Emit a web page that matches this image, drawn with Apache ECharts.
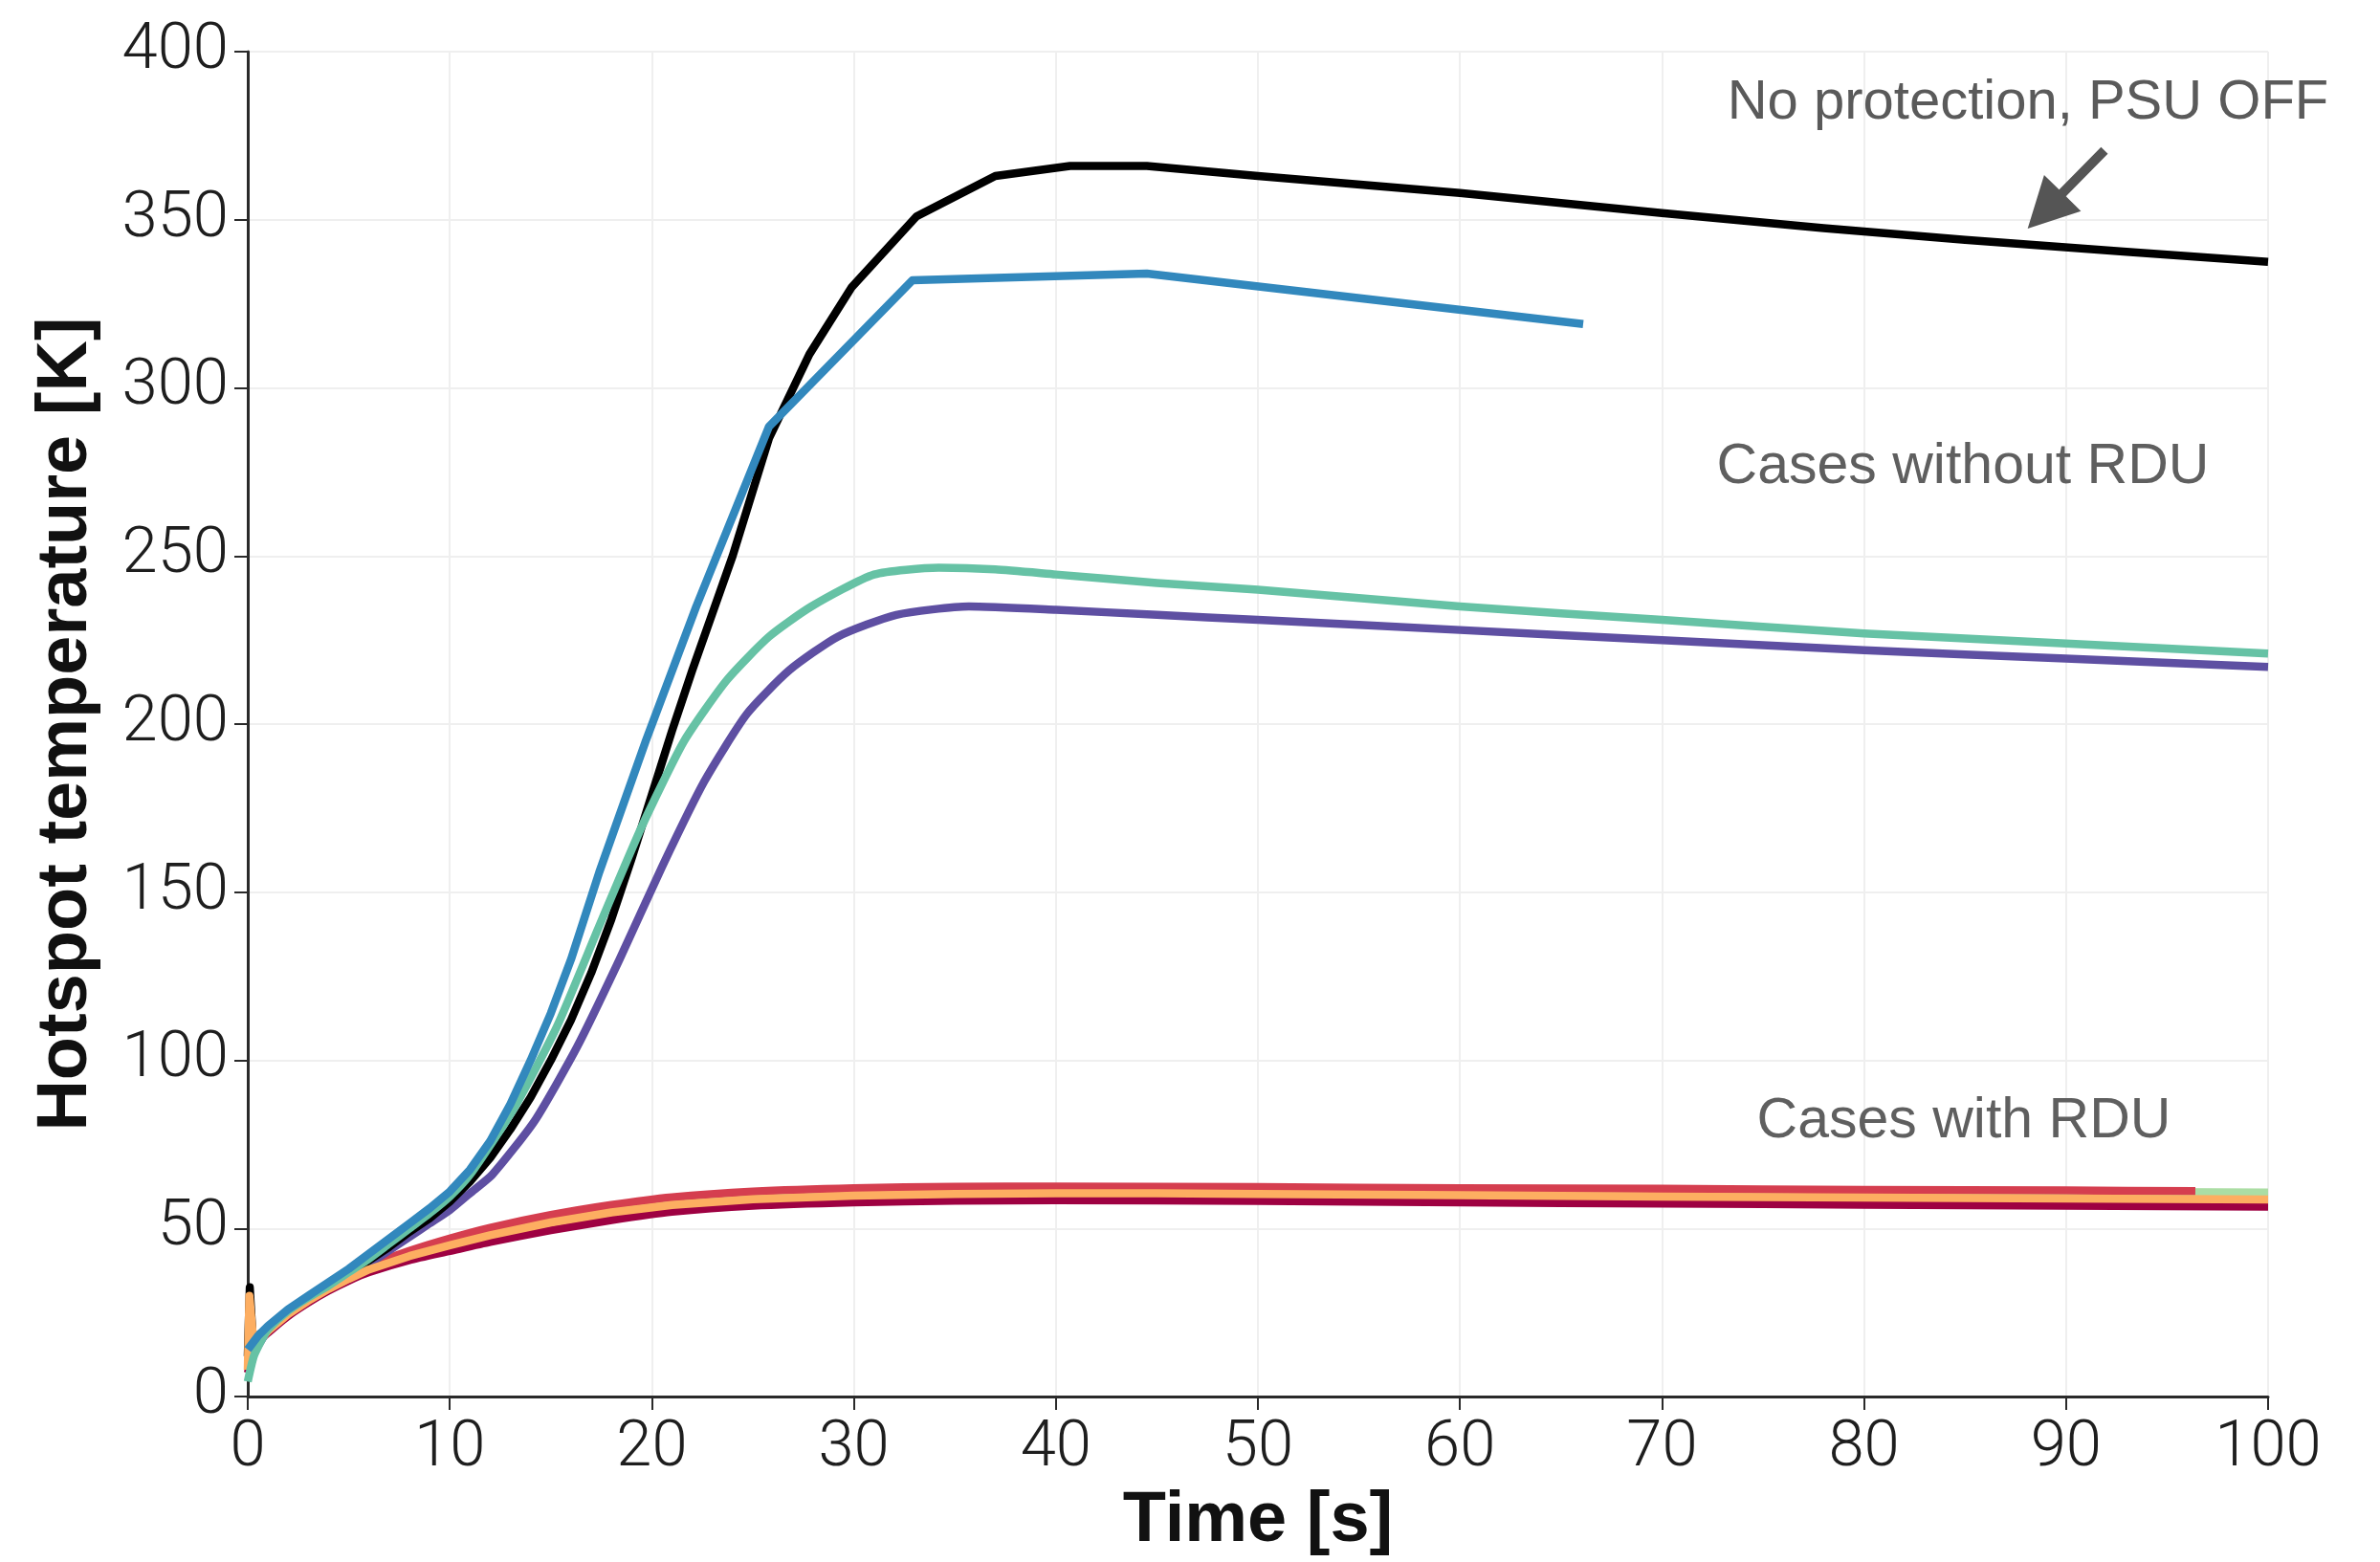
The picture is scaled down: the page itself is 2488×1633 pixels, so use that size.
<!DOCTYPE html>
<html>
<head>
<meta charset="utf-8">
<script src="https://cdn.jsdelivr.net/npm/echarts@6/dist/echarts.min.js"></script>
<style>
html,body{margin:0;padding:0;background:#fff;}
#chart{width:2488px;height:1633px;}
</style>
</head>
<body>
<div id="chart"></div>
<script>
// ---- Data (time in s, hotspot temperature in K) ----
const xTicks = [0, 10, 20, 30, 40, 50, 60, 70, 80, 90, 100];
const yTicks = [0, 50, 100, 150, 200, 250, 300, 350, 400];

// No protection, PSU OFF (black)
const timeBlack = [0, 0.1, 0.25, 1, 2, 3, 4, 5, 6, 7, 8, 9, 10, 11, 12, 13, 14, 15, 16, 17, 18, 19, 20, 21, 22, 23, 24, 25.8, 27.8, 29.9, 33.1, 37, 40.7, 44.5, 50, 60, 70, 78, 85, 93, 100];
const tempBlack = [12, 32.5, 17, 20.5, 25.5, 29.5, 33, 36.5, 40.5, 44.5, 49, 53, 58, 64, 71, 79.5, 89, 100, 112, 126, 142, 160, 179, 198, 216, 233, 250, 285, 310, 330, 351, 363, 366, 366, 363, 358, 352, 347.5, 344, 340.5, 337.5];

// Cases without RDU
const timeBlue = [0, 0.5, 1, 2, 3, 4, 5, 6, 7, 8, 9, 10, 11, 12, 13, 14, 15, 16, 17.4, 19.7, 22.2, 25.8, 32.9, 44.5, 66.1];
const tempBlue = [14, 18, 21, 26, 30, 34, 38, 42.5, 47, 51.5, 56, 61, 67.5, 76, 87, 100, 114, 130, 156, 195, 235, 288.5, 332, 334, 319];

const timeTeal = [0, 0.3, 0.7, 1, 2, 3, 4, 5, 6, 7, 8, 9, 10, 11, 13.2, 15.3, 17.4, 19.5, 21.6, 23.7, 25.8, 27.9, 31, 34.2, 37, 40, 45, 50, 60, 70, 80, 90, 100];
const tempTeal = [4.5, 12, 17, 20, 25.5, 29.5, 33, 37, 41, 45.5, 50, 54.5, 59.5, 66, 86, 110, 140, 169.5, 195, 213, 226, 235, 244.5, 246.5, 246, 244.5, 242, 240, 235, 231, 227, 224, 221];

const timePurple = [0, 0.3, 0.7, 1, 2, 3, 4, 5, 6, 7, 8, 9, 10, 11, 12.1, 14.2, 16.3, 18.4, 20.5, 22.6, 24.7, 26.8, 29.2, 32.1, 35.7, 40, 45, 50, 60, 70, 80, 90, 100];
const tempPurple = [8, 13, 17, 20, 25, 29, 32.5, 36, 39.5, 43.5, 47.5, 51.5, 55.5, 60.5, 66, 82, 104, 130, 157.5, 183, 203, 216, 226, 232.5, 235, 234, 232.5, 231, 228, 225, 222, 219.5, 217];

// Cases with RDU
const timeOrange = [0, 0.08, 0.3, 1, 2, 3, 4, 5, 6, 8, 10, 12, 15, 18, 21, 25, 30, 35, 40, 45, 50, 60, 70, 80, 90, 100];
const tempOrange = [8, 30, 15, 19.5, 24.5, 28.5, 32, 35, 37.8, 41.8, 45, 48, 51.8, 54.8, 57, 58.7, 59.8, 60.3, 60.5, 60.5, 60.3, 59.9, 59.5, 59.2, 58.9, 58.6];

const timeRed = [0, 0.5, 1, 2, 3, 4, 5, 6, 8, 10, 12, 15, 18, 21, 25, 30, 35, 40, 50, 60, 70, 80, 90, 96.4];
const tempRed = [10, 17, 20, 25, 29, 32.5, 35.8, 38.8, 43.3, 47, 50.2, 54, 57, 59.3, 61, 62, 62.4, 62.5, 62.3, 62, 61.8, 61.5, 61.3, 61.1];

const timeLightGreen = [0, 0.5, 1, 2, 3, 4, 5, 6, 8, 10, 12, 15, 18, 21, 25, 30, 35, 40, 50, 60, 70, 80, 90, 100];
const tempLightGreen = [10, 17, 20, 25, 29, 32.5, 35.6, 38.5, 42.9, 46.5, 49.7, 53.5, 56.5, 58.8, 60.6, 61.6, 62, 62.1, 61.9, 61.6, 61.4, 61.1, 60.9, 60.7];

const timeMaroon = [0, 0.5, 1, 2, 3, 4, 5, 6, 8, 10, 12, 15, 18, 21, 25, 30, 35, 40, 50, 60, 70, 80, 90, 100];
const tempMaroon = [7, 16, 19, 24, 28, 31.5, 34.5, 37, 40.6, 43.3, 46, 49.5, 52.5, 55, 56.8, 57.8, 58.3, 58.4, 58.2, 57.8, 57.4, 57.1, 56.8, 56.5];

// Annotation arrow (data coordinates: tail -> tip)
const arrowTail = [91.9, 370.6];
const arrowTip = [88.1, 347.4];

const pairs = (xs, ys) => xs.map((x, i) => [x, ys[i]]);

const chart = echarts.init(document.getElementById('chart'), null, {renderer: 'canvas'});

const LW = 8.5;
function line(name, xs, ys, color, smooth, z) {
  return {
    name: name, type: 'line', data: pairs(xs, ys), showSymbol: false, symbol: 'none',
    smooth: smooth ? 0.2 : false,
    lineStyle: {color: color, width: LW, cap: 'butt', join: 'round'},
    z: z, animation: false, silent: true
  };
}

const tickFont = {fontFamily: 'Roboto, "Liberation Sans", sans-serif', fontWeight: 300, fontSize: 67, color: '#1e1e1e'};

chart.setOption({
  animation: false,
  backgroundColor: '#ffffff',
  grid: {left: 259, top: 54, right: 117, bottom: 164, containLabel: false},
  xAxis: {
    type: 'value', min: 0, max: 100, interval: 10,
    name: 'Time [s]', nameLocation: 'middle', nameGap: 88,
    nameTextStyle: {fontFamily: '"Liberation Sans", Arial, sans-serif', fontWeight: 'bold', fontSize: 74, color: '#111'},
    axisLine: {show: true, onZero: false, lineStyle: {color: '#2a2a2a', width: 3}},
    axisTick: {show: true, length: 14, inside: false, lineStyle: {color: '#2a2a2a', width: 2}},
    axisLabel: Object.assign({margin: 22, formatter: v => xTicks.includes(v) ? String(v) : ''}, tickFont),
    splitLine: {show: true, lineStyle: {color: '#efefef', width: 2}}
  },
  yAxis: {
    type: 'value', min: 0, max: 400, interval: 50,
    name: 'Hotspot temperature [K]', nameLocation: 'middle', nameGap: 152, nameRotate: 90,
    nameTextStyle: {fontFamily: '"Liberation Sans", Arial, sans-serif', fontWeight: 'bold', fontSize: 74, color: '#111'},
    axisLine: {show: true, onZero: false, lineStyle: {color: '#2a2a2a', width: 3}},
    axisTick: {show: true, length: 14, inside: false, lineStyle: {color: '#2a2a2a', width: 2}},
    axisLabel: Object.assign({margin: 20, formatter: v => yTicks.includes(v) ? String(v) : ''}, tickFont),
    splitLine: {show: true, lineStyle: {color: '#efefef', width: 2}}
  },
  series: [
    line('RDU 4', timeMaroon, tempMaroon, '#9e0142', true, 2),
    line('RDU 2', timeLightGreen, tempLightGreen, '#abdda4', true, 3),
    line('RDU 1', timeRed, tempRed, '#d53e4f', true, 4),
    line('No RDU 4', timePurple, tempPurple, '#5e4fa2', true, 5),
    line('No protection, PSU OFF', timeBlack, tempBlack, '#000000', false, 6),
    line('RDU 3', timeOrange, tempOrange, '#fdae61', false, 6.5),
    line('No RDU 3', timeTeal, tempTeal, '#66c2a5', true, 7),
    line('No RDU 2', timeBlue, tempBlue, '#3288bd', false, 8)
  ]
});

// Annotations
const tail = chart.convertToPixel({gridIndex: 0}, arrowTail);
const tip = chart.convertToPixel({gridIndex: 0}, arrowTip);
const dx = tip[0] - tail[0], dy = tip[1] - tail[1];
const L = Math.sqrt(dx * dx + dy * dy);
const ux = dx / L, uy = dy / L;
const px = -uy, py = ux;
const headLen = 52, headHalf = 27, shaftHalf = 5;
const bx = tip[0] - ux * headLen, by = tip[1] - uy * headLen;
const arrowPts = [
  [tail[0] + px * shaftHalf, tail[1] + py * shaftHalf],
  [bx + px * shaftHalf, by + py * shaftHalf],
  [bx + px * headHalf, by + py * headHalf],
  [tip[0], tip[1]],
  [bx - px * headHalf, by - py * headHalf],
  [bx - px * shaftHalf, by - py * shaftHalf],
  [tail[0] - px * shaftHalf, tail[1] - py * shaftHalf]
];

const annFont = '"Liberation Sans", Arial, sans-serif';
chart.setOption({
  graphic: [
    {type: 'polygon', shape: {points: arrowPts}, style: {fill: '#555555'}, z: 20, silent: true},
    {type: 'text', x: 2120, y: 108, style: {text: 'No protection, PSU OFF', fontFamily: annFont, fontSize: 58, fill: '#5a5a5a', textAlign: 'center', textVerticalAlign: 'middle'}, z: 20, silent: true},
    {type: 'text', x: 2052, y: 489, style: {text: 'Cases without RDU', fontFamily: annFont, fontSize: 59, fill: '#5f5f5f', textAlign: 'center', textVerticalAlign: 'middle'}, z: 20, silent: true},
    {type: 'text', x: 2053, y: 1173, style: {text: 'Cases with RDU', fontFamily: annFont, fontSize: 59, fill: '#5f5f5f', textAlign: 'center', textVerticalAlign: 'middle'}, z: 20, silent: true}
  ]
});
</script>
</body>
</html>
